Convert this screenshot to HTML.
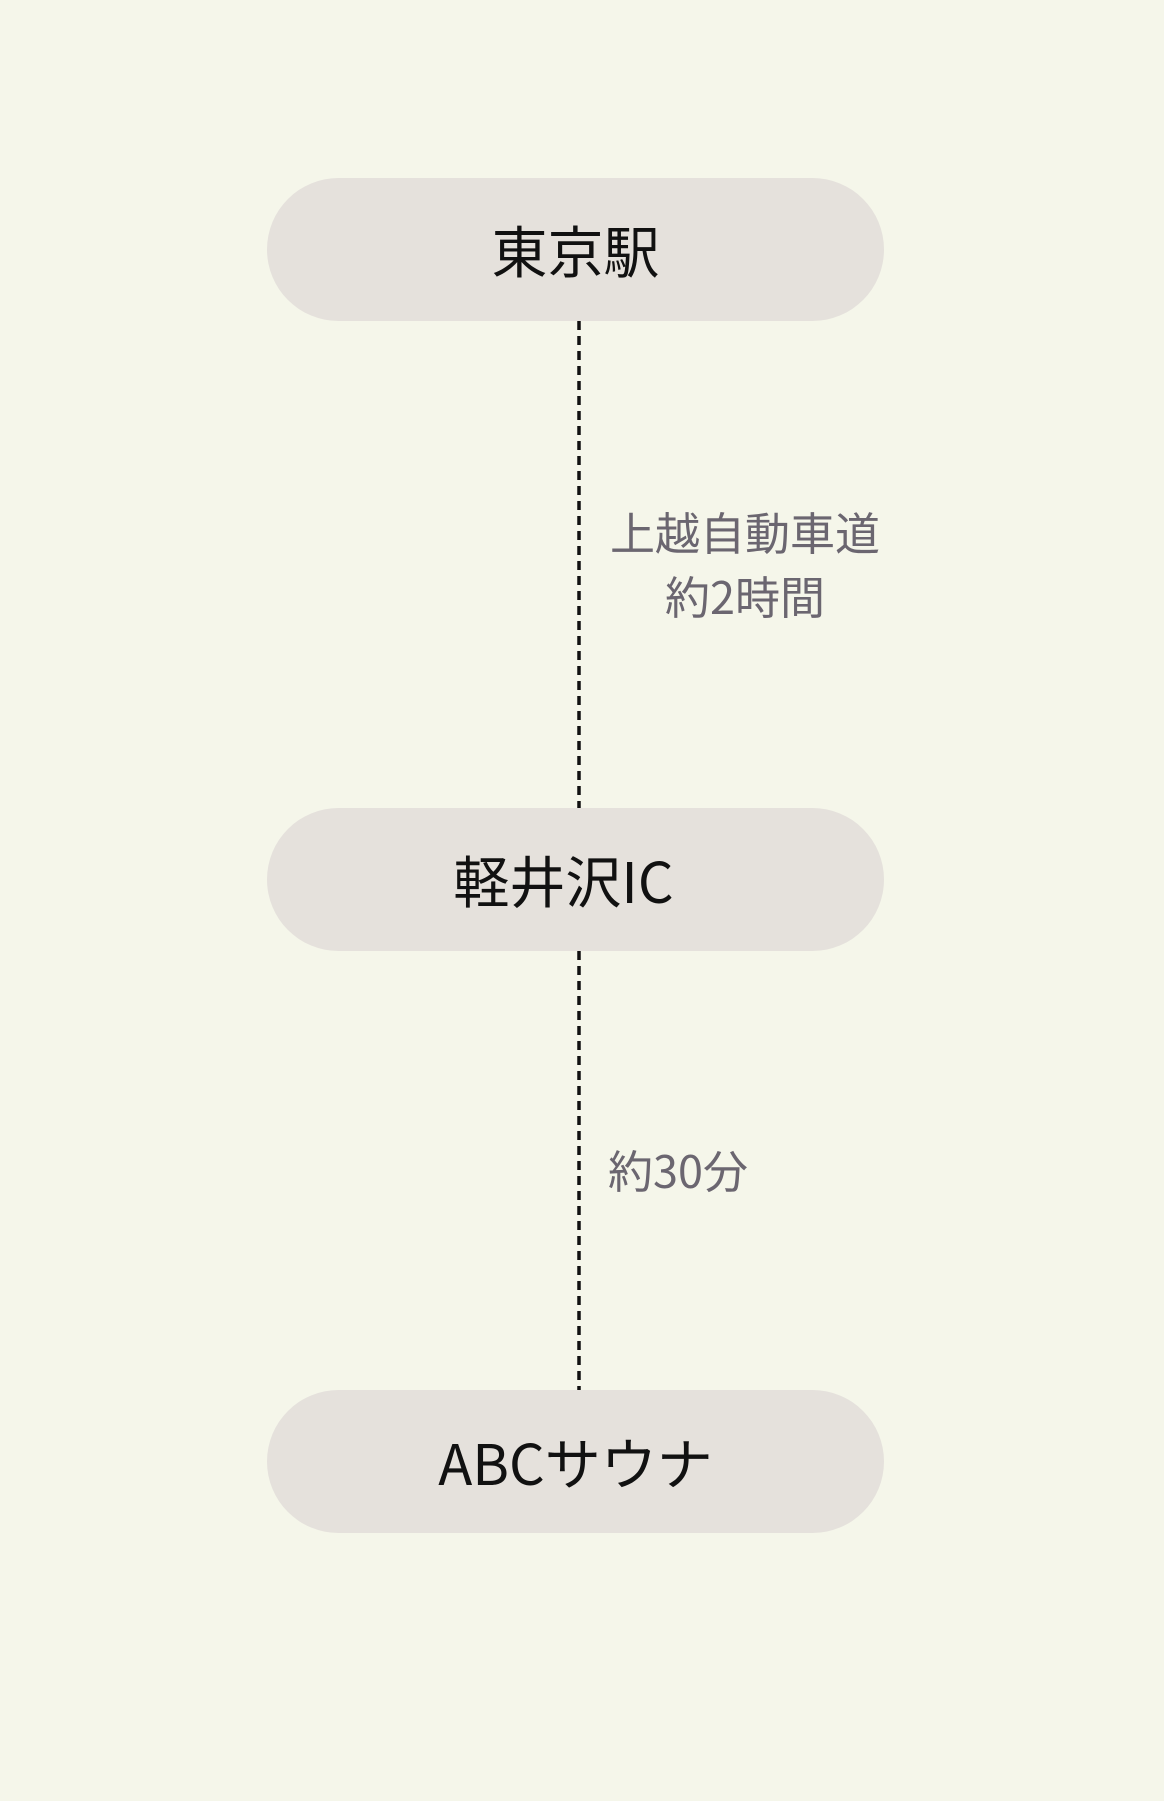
<!DOCTYPE html>
<html><head><meta charset="utf-8"><style>
html,body{margin:0;padding:0;}
body{width:1164px;height:1801px;background:#f5f6ea;position:relative;overflow:hidden;font-family:"Noto Sans CJK JP","Liberation Sans",sans-serif;}
.node{position:absolute;left:267px;width:617px;height:143px;border-radius:72px;background:#e5e1dc;display:flex;align-items:center;justify-content:center;font-size:56px;color:#111;line-height:1;}
.lbl{position:absolute;font-size:45px;color:#6b6670;line-height:64px;text-align:center;}
</style></head><body>
<svg style="position:absolute;left:0;top:0" width="1164" height="1801">
<line x1="579" y1="321" x2="579" y2="808" stroke="#111" stroke-width="3.5" stroke-dasharray="9,6"/>
<line x1="579" y1="951" x2="579" y2="1390" stroke="#111" stroke-width="3.5" stroke-dasharray="9,6"/>
</svg>
<div class="node" style="top:178px">東京駅</div>
<div class="lbl" style="left:600px;top:499px;width:290px">上越自動車道<br>約2時間</div>
<div class="node" style="top:808px;padding-right:24px;box-sizing:border-box">軽井沢IC</div>
<div class="lbl" style="left:608px;top:1137px;text-align:left">約30分</div>
<div class="node" style="top:1390px">ABCサウナ</div>
</body></html>
